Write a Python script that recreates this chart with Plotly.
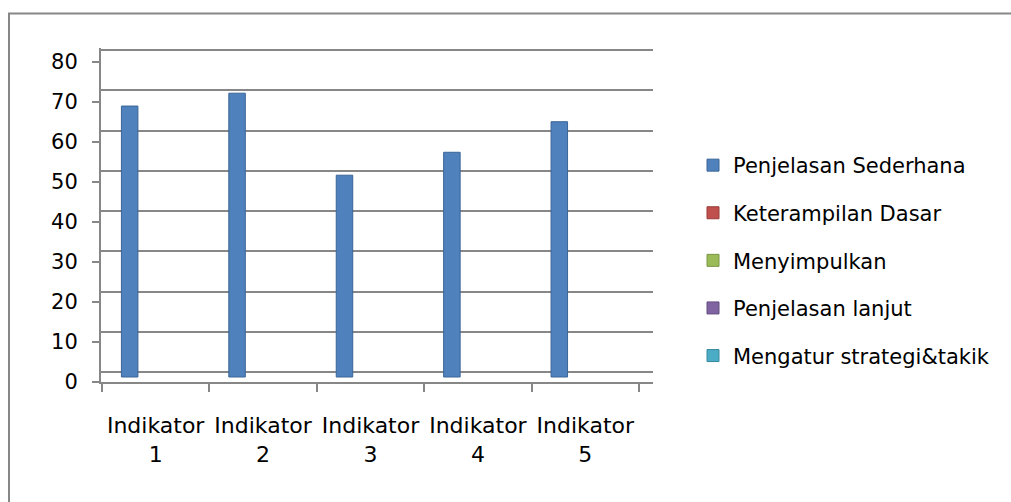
import plotly.graph_objects as go

# ---- data ----
categories = ["Indikator<br>1", "Indikator<br>2", "Indikator<br>3", "Indikator<br>4", "Indikator<br>5"]
series_names = ["Penjelasan Sederhana", "Keterampilan Dasar", "Menyimpulkan",
                "Penjelasan lanjut", "Mengatur strategi&takik"]
penjelasan_sederhana = [67.4, 70.6, 50.2, 55.9, 63.5]
keterampilan_dasar = [None, None, None, None, None]
menyimpulkan = [None, None, None, None, None]
penjelasan_lanjut = [None, None, None, None, None]
mengatur_strategi = [None, None, None, None, None]
y_ticks = [0, 10, 20, 30, 40, 50, 60, 70, 80]

series_values = [penjelasan_sederhana, keterampilan_dasar, menyimpulkan,
                 penjelasan_lanjut, mengatur_strategi]
colors = ["#4F81BD", "#C0504D", "#9BBB59", "#8064A2", "#4BACC6"]
line_colors = ["#3A6597", "#9A3B38", "#7A9545", "#634C80", "#36899F"]

FONT = "DejaVu Sans"
GRAY = "#878787"

fig = go.Figure()
# empty helper traces so the front/back plane axes are drawn
fig.add_trace(go.Scatter(x=[], y=[], xaxis="x", yaxis="y", showlegend=False, hoverinfo="skip"))
fig.add_trace(go.Scatter(x=[], y=[], xaxis="x", yaxis="y2", showlegend=False, hoverinfo="skip"))
for i, (name, vals) in enumerate(zip(series_names, series_values)):
    fig.add_trace(go.Bar(
        x=categories, y=vals, name=name,
        xaxis="x2", yaxis="y3",
        legendgroup="g%d" % i,
        marker=dict(color=colors[i], line=dict(color=line_colors[i], width=1)),
    ))

W, H = 1011, 502
L, R, T, B = 101, 653, 48, 382   # plot area in pixels

def px_x(p):
    return (p - L) / (R - L)

def px_y(p):
    return (B - p) / (B - T)

fig.update_layout(
    width=W, height=H,
    margin=dict(l=L, r=W - R, t=T, b=H - B, pad=0, autoexpand=False),
    paper_bgcolor="white", plot_bgcolor="white",
    barmode="group", bargap=0.232, bargroupgap=0,
    font=dict(family=FONT, size=21, color="#000000"),
    showlegend=True,
    legend=dict(
        x=px_x(693), y=px_y(145), xanchor="left", yanchor="top",
        font=dict(family=FONT, size=21, color="#000000"),
        traceorder="grouped", tracegroupgap=17.3,
        bgcolor="rgba(0,0,0,0)", borderwidth=0,
        itemwidth=30,
    ),
    # front plane: category axis with ticks at boundaries
    xaxis=dict(
        type="category", categoryarray=categories,
        range=[-0.509, 4.630],
        tickson="boundaries", ticks="outside", ticklen=8, tickwidth=2, tickcolor=GRAY,
        showline=True, linecolor=GRAY, linewidth=2,
        showgrid=False, zeroline=False,
        tickfont=dict(family=FONT, size=22, color="#000000"),
        tickangle=0, automargin=False,
        ticklabelstandoff=23,
        anchor="y", fixedrange=True,
    ),
    # mid plane for the bars (shifted like the 3D depth)
    xaxis2=dict(
        type="category", categoryarray=categories,
        range=[-0.574, 4.565],
        overlaying="x", anchor="y3", visible=False, fixedrange=True,
    ),
    # back plane: gridlines
    yaxis=dict(
        range=[-2.41, 80.5], tickvals=y_ticks,
        showgrid=True, gridcolor=GRAY, gridwidth=2,
        showticklabels=False, ticks="", showline=False, zeroline=False,
        anchor="x", fixedrange=True, automargin=False,
    ),
    # front plane: value axis with labels
    yaxis2=dict(
        range=[0, 83.42], tickvals=y_ticks,
        overlaying="y", side="left", anchor="x",
        ticks="outside", ticklen=7, tickwidth=2, tickcolor=GRAY,
        showline=True, linecolor=GRAY, linewidth=2,
        showgrid=False, zeroline=False,
        tickfont=dict(family=FONT, size=21, color="#000000"),
        ticklabelstandoff=10, fixedrange=True, automargin=False,
    ),
    yaxis3=dict(
        range=[-1.24, 81.84], overlaying="y", anchor="x2",
        visible=False, fixedrange=True,
    ),
)

# outer chart-area border
fig.add_shape(
    type="rect", xref="paper", yref="paper",
    x0=px_x(9), x1=px_x(1020), y0=px_y(515), y1=px_y(13.5),
    line=dict(color=GRAY, width=2), fillcolor="rgba(0,0,0,0)", layer="below",
)

fig.write_html("out.html", config={"displayModeBar": False},
               post_script="document.body.style.margin='0';")
